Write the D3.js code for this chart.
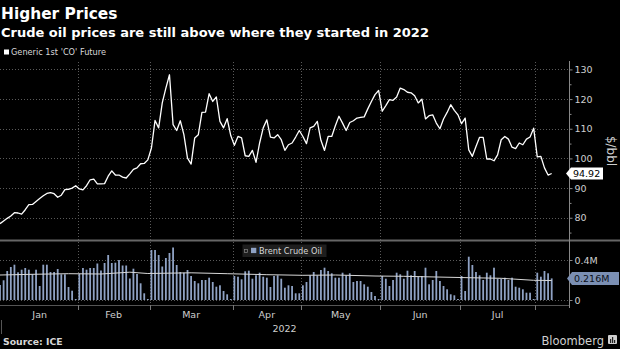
<!DOCTYPE html>
<html><head><meta charset="utf-8">
<script src="https://cdn.jsdelivr.net/npm/d3@7"></script>
<style>
html,body{margin:0;padding:0;background:#000;}
svg{display:block;}
text{font-family:"DejaVu Sans",sans-serif;}
</style></head><body>
<svg id="c" width="620" height="349"></svg>
<script>
const title = "Higher Prices";
const subtitle = "Crude oil prices are still above where they started in 2022";
const priceLegend = "Generic 1st 'CO' Future";
const volumeLegend = "Brent Crude Oil";
const sourceText = "Source: ICE";
const brandText = "Bloomberg";
const startDate = "2021-12-31", endDate = "2022-08-05";
const holidays = ["2022-04-15", "2022-04-18"];

const prices = [
  78.0, 78.9, 79.8, 80.6, 81.7, 81.6, 81.2, 82.7, 84.4, 84.5, 85.5, 86.5, 87.4, 88.2, 88.5, 88.1, 86.9, 87.6, 89.5, 89.6, 90.0, 90.8,
  89.7, 89.4, 90.8, 92.8, 93.0, 91.4, 91.4, 91.5, 94.0, 95.8, 94.4, 94.4, 93.7, 93.4, 94.8, 96.3, 96.8, 98.2, 98.3, 99.5,
  103.5, 112.8, 110.3, 118.7, 123.7, 128.2, 111.4, 109.4, 112.7, 108.0, 100.1, 98.1, 106.9, 108.0, 115.5, 115.6, 121.8, 119.2, 120.7, 112.5, 110.3, 113.4, 107.7,
  104.4, 107.4, 106.9, 100.9, 100.7, 102.7, 98.7, 105.2, 110.3, 113.0, 107.2, 106.9, 108.0, 106.3, 102.7, 104.6, 105.2, 107.2, 109.4,
  107.4, 105.0, 110.3, 110.8, 112.5, 106.1, 102.7, 107.4, 107.4, 111.0, 114.2, 111.9, 109.4, 112.1, 112.7, 113.6, 113.8, 114.0, 116.7, 119.2, 121.5, 122.9,
  115.9, 117.8, 119.8, 119.6, 120.7, 123.7, 123.2, 122.3, 122.1, 121.1, 118.7, 120.0, 113.3, 114.4, 114.7, 111.9, 110.0, 113.3, 115.5, 118.1, 116.2, 114.7,
  111.7, 113.6, 102.9, 100.7, 104.0, 107.1, 107.1, 99.8, 99.8, 99.2, 101.2, 106.3, 107.4, 106.5, 103.8, 103.3, 105.2, 104.6, 106.5, 107.2, 110.2,
  100.5, 100.7, 96.8, 94.4, 94.92
];
const volumes = [
  0.15, 0.197, 0.29, 0.33, 0.353, 0.277, 0.303, 0.32, 0.303, 0.26, 0.303, 0.14, 0.353, 0.353, 0.28, 0.28, 0.31, 0.257, 0.257, 0.13, 0.093, 0.01,
  0.263, 0.32, 0.303, 0.32, 0.32, 0.365, 0.295, 0.37, 0.45, 0.37, 0.373, 0.40, 0.345, 0.345, 0.215, 0.313, 0.26, 0.167, 0.067, 0.01,
  0.50, 0.50, 0.45, 0.335, 0.42, 0.47, 0.525, 0.35, 0.28, 0.273, 0.30, 0.24, 0.19, 0.167, 0.20, 0.20, 0.223, 0.18, 0.133, 0.147, 0.09, 0.057, 0.01,
  0.24, 0.233, 0.207, 0.287, 0.293, 0.213, 0.247, 0.273, 0.233, 0.223, 0.13, 0.24, 0.247, 0.213, 0.123, 0.147, 0.14, 0.067, 0.067,
  0.147, 0.18, 0.247, 0.28, 0.247, 0.30, 0.323, 0.29, 0.267, 0.223, 0.223, 0.273, 0.247, 0.267, 0.18, 0.19, 0.19, 0.157, 0.133, 0.08, 0.04, 0.01,
  0.24, 0.213, 0.14, 0.20, 0.273, 0.257, 0.213, 0.293, 0.247, 0.29, 0.233, 0.24, 0.323, 0.157, 0.20, 0.29, 0.19, 0.14, 0.107, 0.057, 0.047, 0.01,
  0.24, 0.09, 0.433, 0.35, 0.28, 0.247, 0.20, 0.273, 0.247, 0.323, 0.213, 0.213, 0.223, 0.20, 0.223, 0.133, 0.123, 0.107, 0.073, 0.073, 0.01,
  0.273, 0.233, 0.29, 0.267, 0.216
];
const avgIdx  = [0, 9, 19, 28, 36, 41, 53, 63, 74, 84, 93, 104, 112, 121, 130, 139, 148, 153];
const avgVals = [0.25, 0.257, 0.263, 0.26, 0.278, 0.265, 0.272, 0.263, 0.253, 0.247, 0.25, 0.24, 0.237, 0.23, 0.223, 0.217, 0.197, 0.195];

const priceTicks = [80, 90, 100, 110, 120, 130];
const priceMinorTicks = [75, 85, 95, 105, 115, 125];
const volumeTicks = [0, 0.4];
const volumeTickLabels = ["0", "0.4M"];
const monthLabels = ["Jan", "Feb", "Mar", "Apr", "May", "Jun", "Jul"];
const yearLabel = "2022";
const lastPriceLabel = "94.92";
const lastVolumeLabel = "0.216M";

// trading-day categories
const parse = d3.timeParse("%Y-%m-%d"), fmt = d3.timeFormat("%Y-%m-%d");
const dates = d3.timeDay.range(parse(startDate), d3.timeDay.offset(parse(endDate), 1))
  .filter(d => d.getDay() !== 0 && d.getDay() !== 6 && !holidays.includes(fmt(d)));

const svg = d3.select("#c");
const axisX = 569;
const x = d3.scaleLinear().domain([0, 157.8]).range([0, axisX]);
const y = d3.scaleLinear().domain([72.5, 132.5]).range([240, 62]);
const yv = d3.scaleLinear().domain([0, 0.4]).range([300, 260]);

// month groups
const groups = [];
dates.forEach((d, i) => {
  const m = d.getMonth() + 12 * (d.getFullYear() - 2022);
  if (!groups.length || groups[groups.length - 1].m !== m) groups.push({m, start: i, end: i});
  else groups[groups.length - 1].end = i;
});
const boundaries = groups.filter(g => g.m >= 1).map(g => g.start - 0.5);

// gridlines
const grid = svg.append("g").attr("stroke", "#5a5a5a").attr("stroke-width", 1).attr("stroke-dasharray", "1,2");
boundaries.forEach(b => {
  grid.append("line").attr("x1", Math.round(x(b)) + 0.5).attr("x2", Math.round(x(b)) + 0.5).attr("y1", 62).attr("y2", 305);
});
priceTicks.forEach(t => {
  grid.append("line").attr("x1", 0).attr("x2", axisX).attr("y1", Math.round(y(t)) + 0.5).attr("y2", Math.round(y(t)) + 0.5);
});
volumeTicks.forEach(t => {
  grid.append("line").attr("x1", 0).attr("x2", axisX).attr("y1", Math.round(yv(t)) + 0.5).attr("y2", Math.round(yv(t)) + 0.5);
});

// panel divider
svg.append("line").attr("x1", 0).attr("x2", 620).attr("y1", 240.5).attr("y2", 240.5).attr("stroke", "#666").attr("stroke-width", 2);
// bottom axis line
svg.append("line").attr("x1", 0).attr("x2", axisX).attr("y1", 305.5).attr("y2", 305.5).attr("stroke", "#555").attr("stroke-width", 1);
boundaries.forEach(b => {
  svg.append("line").attr("x1", Math.round(x(b)) + 0.5).attr("x2", Math.round(x(b)) + 0.5).attr("y1", 305).attr("y2", 310).attr("stroke", "#777");
});
svg.append("line").attr("x1", 1.5).attr("x2", 1.5).attr("y1", 320).attr("y2", 334).attr("stroke", "#555");

// volume bars
svg.append("g").selectAll("rect").data(volumes).join("rect")
  .attr("x", (d, i) => x(i) - 0.9).attr("width", 1.8)
  .attr("y", d => yv(d)).attr("height", d => yv(0) - yv(d))
  .attr("fill", "#8fa2c4");

// average line
svg.append("path").datum(avgIdx.map((k, j) => [k, avgVals[j]]))
  .attr("d", d3.line().x(d => x(d[0])).y(d => yv(d[1])))
  .attr("fill", "none").attr("stroke", "#d8d8d8").attr("stroke-width", 1);

// price line
svg.append("path").datum(prices)
  .attr("d", d3.line().x((d, i) => x(i)).y(d => y(d)))
  .attr("fill", "none").attr("stroke", "#fff").attr("stroke-width", 1.3).attr("stroke-linejoin", "round");

// right axes
svg.append("line").attr("x1", axisX + 0.5).attr("x2", axisX + 0.5).attr("y1", 61).attr("y2", 308).attr("stroke", "#888");
const ga = svg.append("g").attr("transform", `translate(${axisX + 0.5},0)`)
  .call(d3.axisRight(y).tickValues(priceTicks).tickSize(3).tickPadding(2).tickFormat(d3.format("d")));
const gm = svg.append("g").attr("transform", `translate(${axisX + 0.5},0)`)
  .call(d3.axisRight(y).tickValues(priceMinorTicks).tickSize(2).tickFormat(""));
const gv = svg.append("g").attr("transform", `translate(${axisX + 0.5},0)`)
  .call(d3.axisRight(yv).tickValues(volumeTicks).tickSize(3).tickPadding(2).tickFormat((d, i) => volumeTickLabels[i]));
[ga, gm, gv].forEach(g => {
  g.select(".domain").remove();
  g.selectAll("line").attr("stroke", "#888");
  g.selectAll("text").attr("fill", "#cfcfcf").style("font-size", "9.5px").style("font-family", "DejaVu Sans");
});

svg.append("text").attr("transform", "translate(611,151) rotate(90)")
  .attr("text-anchor", "middle").attr("dominant-baseline", "central")
  .attr("fill", "#cfcfcf").style("font-size", "12px").text("$/bbl");

// last price tag
const lp = y(prices[prices.length - 1]);
svg.append("path").attr("d", `M566,${lp} L571,${lp - 6} H603 V${lp + 6} H571 Z`).attr("fill", "#fff");
svg.append("text").attr("x", 573).attr("y", lp).attr("dominant-baseline", "central")
  .attr("fill", "#000").style("font-size", "9.5px").text(lastPriceLabel);

// last volume tag
const lv = yv(volumes[volumes.length - 1]);
svg.append("path").attr("d", `M567,${lv} L572,${lv - 6.5} H619 V${lv + 6.5} H572 Z`).attr("fill", "#7b8fb3");
svg.append("text").attr("x", 574).attr("y", lv).attr("dominant-baseline", "central")
  .attr("fill", "#0a0f1a").style("font-size", "9.5px").text(lastVolumeLabel);

// month labels
groups.filter(g => g.m >= 0 && g.m < monthLabels.length).forEach(g => {
  const cx = (x(g.start - 0.5) + x(g.end + 0.5)) / 2;
  svg.append("text").attr("x", cx).attr("y", 318).attr("text-anchor", "middle")
    .attr("fill", "#cfcfcf").style("font-size", "9.5px").text(monthLabels[g.m]);
});
svg.append("text").attr("x", axisX / 2).attr("y", 331.5).attr("text-anchor", "middle")
  .attr("fill", "#cfcfcf").style("font-size", "9.5px").text(yearLabel);

// titles
svg.append("text").attr("x", 1).attr("y", 19).attr("fill", "#fff")
  .style("font-size", "15.4px").style("font-weight", "bold").text(title);
svg.append("text").attr("x", 1).attr("y", 36.5).attr("fill", "#fff")
  .style("font-size", "13px").style("font-weight", "bold").text(subtitle);

// top legend
svg.append("rect").attr("x", 4).attr("y", 49.5).attr("width", 5).attr("height", 5).attr("fill", "#fff");
svg.append("text").attr("x", 11).attr("y", 55).attr("fill", "#d8d8d8").style("font-size", "8.2px").text(priceLegend);

// volume legend
svg.append("rect").attr("x", 242.5).attr("y", 244.5).attr("width", 84).attr("height", 12.5).attr("fill", "#1e1e1e");
svg.append("rect").attr("x", 244.5).attr("y", 249.5).attr("width", 3).attr("height", 3).attr("fill", "none").attr("stroke", "#888").attr("stroke-width", 0.7);
svg.append("rect").attr("x", 251).attr("y", 247.8).attr("width", 5.3).attr("height", 5.3).attr("fill", "#8fa2c4");
svg.append("text").attr("x", 259).attr("y", 253.8).attr("fill", "#d8d8d8").style("font-size", "8.2px").text(volumeLegend);

// footer
svg.append("text").attr("x", 3).attr("y", 345).attr("fill", "#d8d8d8")
  .style("font-size", "9.3px").style("font-weight", "bold").text(sourceText);
svg.append("text").attr("x", 604).attr("y", 344.5).attr("text-anchor", "end").attr("fill", "#d0d0d0")
  .style("font-size", "11.5px").text(brandText);
const ic = svg.append("g").attr("transform", "translate(608,335)");
ic.append("rect").attr("width", 9).attr("height", 9).attr("rx", 1).attr("fill", "#cfcfcf");
[[2, 4], [4, 2], [6, 5]].forEach(([bx, by]) => ic.append("rect").attr("x", bx).attr("y", by).attr("width", 1.2).attr("height", 8 - by).attr("fill", "#222"));
</script>
</body></html>
